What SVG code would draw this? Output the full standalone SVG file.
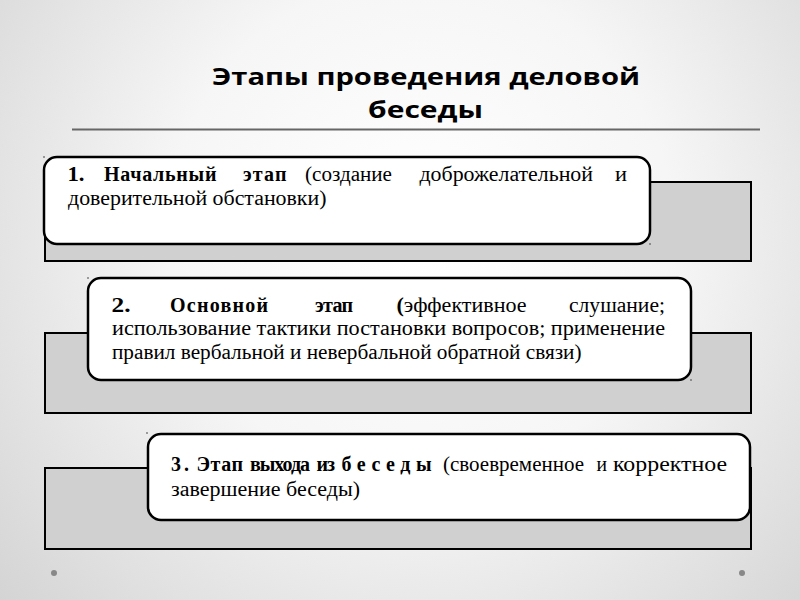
<svg xmlns="http://www.w3.org/2000/svg" width="800" height="600" viewBox="0 0 800 600">
<defs>
<radialGradient id="bg" cx="420" cy="230" r="560" gradientUnits="userSpaceOnUse">
<stop offset="0" stop-color="#ffffff"/>
<stop offset="0.45" stop-color="#f6f6f6"/>
<stop offset="1" stop-color="#d4d4d4"/>
</radialGradient>
<style>
.panel{fill:#d0d0d0;stroke:#000;stroke-width:2}
.box{fill:#fff;stroke:#000;stroke-width:2.5}
.t{font-family:"Liberation Serif","Times New Roman",serif;font-size:20px;fill:#000}
.b{font-weight:bold}
.title{font-family:"Open Sans","DejaVu Sans",sans-serif;font-weight:bold;font-size:24px;fill:#000}
.dot{fill:#888}
.spk{fill:#333}
</style>
</defs>
<rect width="800" height="600" fill="url(#bg)"/>
<g id="title">
<text class="title" x="212" y="84.5" textLength="428" lengthAdjust="spacingAndGlyphs">Этапы проведения деловой</text>
<text class="title" x="368" y="117.5" textLength="115" lengthAdjust="spacingAndGlyphs">беседы</text>
<line x1="72" y1="129.5" x2="760" y2="129.5" stroke="#666" stroke-width="2"/>
</g>
<g id="stage1">
<rect class="panel" x="45" y="182" width="706" height="79"/>
<rect class="box" x="44" y="157" width="606" height="87" rx="13"/>
<text class="t b" x="67.5" y="181" textLength="17" lengthAdjust="spacingAndGlyphs">1.</text>
<text class="t b" x="104" y="181" textLength="112.5" lengthAdjust="spacing">Начальный</text>
<text class="t b" x="243" y="181" textLength="43.5" lengthAdjust="spacing">этап</text>
<text class="t" x="305" y="181" textLength="87" lengthAdjust="spacingAndGlyphs">(создание</text>
<text class="t" x="419.5" y="181" textLength="173.5" lengthAdjust="spacingAndGlyphs">доброжелательной</text>
<text class="t" x="615" y="181" textLength="12" lengthAdjust="spacingAndGlyphs">и</text>
<text class="t" x="68" y="205" textLength="258.5" lengthAdjust="spacingAndGlyphs">доверительной обстановки)</text>
<circle class="spk" cx="44" cy="157" r="0.8"/>
<circle class="spk" cx="650" cy="244" r="0.8"/>
</g>
<g id="stage2">
<rect class="panel" x="45" y="333" width="706" height="80"/>
<rect class="box" x="88" y="278" width="603" height="102" rx="13"/>
<text class="t b" x="111.5" y="311.5" textLength="19" lengthAdjust="spacingAndGlyphs">2.</text>
<text class="t b" x="170" y="311.5" textLength="98" lengthAdjust="spacing">Основной</text>
<text class="t b" x="315" y="311.5" textLength="38" lengthAdjust="spacing">этап</text>
<text class="t" x="396.5" y="311.5" textLength="130" lengthAdjust="spacingAndGlyphs"><tspan class="b">(</tspan>эффективное</text>
<text class="t" x="569" y="311.5" textLength="96" lengthAdjust="spacingAndGlyphs">слушание;</text>
<text class="t" x="112" y="335" textLength="553" lengthAdjust="spacingAndGlyphs">использование тактики постановки вопросов; применение</text>
<text class="t" x="112" y="358.5" textLength="469.5" lengthAdjust="spacingAndGlyphs">правил вербальной и невербальной обратной связи)</text>
<circle class="spk" cx="88" cy="278" r="0.8"/>
<circle class="spk" cx="691" cy="380" r="0.8"/>
</g>
<g id="stage3">
<rect class="panel" x="45" y="468" width="706" height="81"/>
<rect class="box" x="148" y="434" width="602" height="86" rx="13"/>
<text class="t b" x="171" y="470.5" textLength="18" lengthAdjust="spacing">3.</text>
<text class="t b" x="196.5" y="470.5" textLength="46.5" lengthAdjust="spacing">Этап</text>
<text class="t b" x="250" y="470.5" textLength="60" lengthAdjust="spacing">выхода</text>
<text class="t b" x="316.5" y="470.5" textLength="18.5" lengthAdjust="spacing">из</text>
<text class="t b" x="341.5" y="470.5" textLength="90" lengthAdjust="spacing">беседы</text>
<text class="t" x="443" y="470.5" textLength="141" lengthAdjust="spacingAndGlyphs">(своевременное</text>
<text class="t" x="596.5" y="470.5" textLength="10.5" lengthAdjust="spacingAndGlyphs">и</text>
<text class="t" x="613" y="470.5" textLength="114" lengthAdjust="spacingAndGlyphs">корректное</text>
<text class="t" x="171" y="495.5" textLength="189" lengthAdjust="spacingAndGlyphs">завершение беседы)</text>
<circle class="spk" cx="147" cy="433" r="0.8"/>
</g>
<g id="connectors"></g>
<circle class="dot" cx="54" cy="573" r="3"/>
<circle class="dot" cx="742" cy="573" r="3"/>
</svg>
